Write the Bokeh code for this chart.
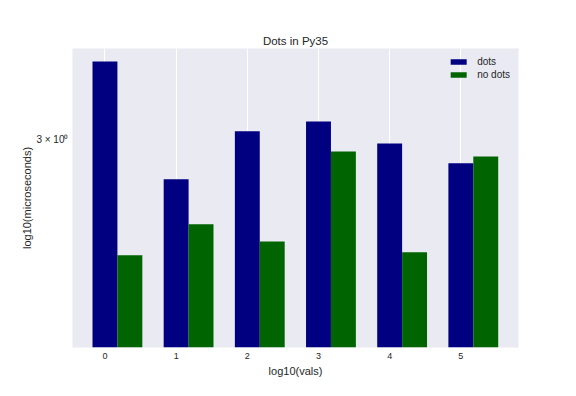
from bokeh.plotting import figure
from bokeh.models import Range1d, FixedTicker, Legend, LegendItem
from bokeh.transform import dodge
from bokeh.embed import file_html
from bokeh.resources import INLINE
from bokeh.models import ColumnDataSource

# data
vals = [0, 1, 2, 3, 4, 5]
dots = [3.28, 2.866, 3.028, 3.062, 2.986, 2.919]
no_dots = [2.627, 2.722, 2.669, 2.959, 2.636, 2.942]
tick_labels = {3: "3 \u00d7 10\u2070"}
series_names = ["dots", "no dots"]
bar_width = 0.35

FONT = "Liberation Sans"
TXT = "#262626"

src = ColumnDataSource(dict(x=vals, dots=dots, no_dots=no_dots))

p = figure(width=568, height=388, output_backend="svg", toolbar_location=None,
           y_axis_type="log",
           x_range=Range1d(-0.456, 5.81), y_range=Range1d(2.364, 3.329),
           min_border_left=72, min_border_right=50, min_border_top=48, min_border_bottom=41,
           title="Dots in Py35")
p.background_fill_color = "#EAEAF2"
p.outline_line_color = None
p.border_fill_color = "white"

r1 = p.vbar(x="x", top="dots", width=bar_width, bottom=1, source=src,
            fill_color="#000080", line_color=None)
r2 = p.vbar(x=dodge("x", bar_width, range=p.x_range), top="no_dots", width=bar_width, bottom=1,
            source=src, fill_color="#006400", line_color=None)

p.title.text_font = FONT
p.title.text_font_size = "11.5px"
p.title.text_font_style = "normal"
p.title.text_color = TXT
p.title.align = "center"
p.title.standoff = 4

p.xaxis.ticker = FixedTicker(ticks=vals)
p.yaxis.ticker = FixedTicker(ticks=list(tick_labels.keys()), minor_ticks=[])
p.yaxis.major_label_overrides = tick_labels
for ax in (p.xaxis[0], p.yaxis[0]):
    ax.axis_line_color = None
    ax.major_tick_line_color = None
    ax.minor_tick_line_color = None
    ax.major_tick_out = 0
    ax.major_tick_in = 0
    ax.minor_tick_out = 0
    ax.minor_tick_in = 0
    ax.major_label_text_font = FONT
    ax.major_label_text_font_size = "9px"
    ax.major_label_text_color = TXT
    ax.axis_label_text_font = FONT
    ax.axis_label_text_font_size = "11px"
    ax.axis_label_text_font_style = "normal"
    ax.axis_label_text_color = TXT
    ax.major_label_standoff = 5
    ax.axis_label_standoff = 3
p.yaxis.major_label_text_font_size = "10px"
p.yaxis.major_label_standoff = 4
p.yaxis.axis_label_standoff = 0
p.xaxis.axis_label = "log10(vals)"
p.yaxis.axis_label = "log10(microseconds)"

p.xgrid.ticker = FixedTicker(ticks=vals)
p.xgrid.grid_line_color = "white"
p.xgrid.grid_line_width = 1
p.ygrid.visible = False

legend = Legend(items=[LegendItem(label=series_names[0], renderers=[r1]),
                       LegendItem(label=series_names[1], renderers=[r2])],
                location="top_right")
legend.background_fill_alpha = 0
legend.border_line_alpha = 0
legend.label_text_font = FONT
legend.label_text_font_size = "10px"
legend.label_text_color = TXT
legend.glyph_width = 20
legend.glyph_height = 7
legend.label_height = 10
legend.spacing = 2
legend.padding = 4
legend.margin = 4
legend.label_standoff = 9
p.add_layout(legend)

open("out.html", "w").write(file_html(p, INLINE))
